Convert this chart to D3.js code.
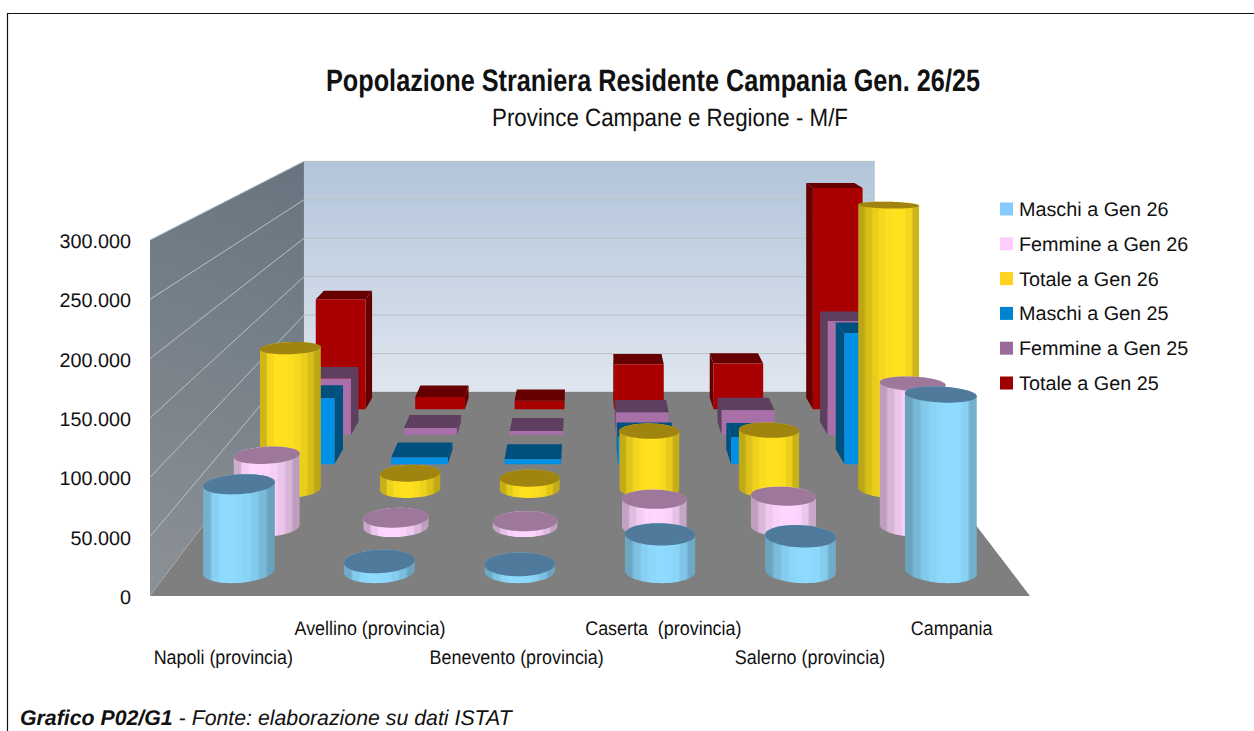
<!DOCTYPE html>
<html>
<head>
<meta charset="utf-8">
<script src="https://cdn.jsdelivr.net/npm/d3@7/dist/d3.min.js"></script>
<style>
  html, body { margin: 0; padding: 0; background: #fff; }
  svg { display: block; }
  text { font-family: "Liberation Sans", Arial, sans-serif; fill: #111; text-rendering: geometricPrecision; }
</style>
</head>
<body>
<div id="result"></div>
<script>
const categories = ["Napoli (provincia)", "Avellino (provincia)", "Benevento (provincia)", "Caserta  (provincia)", "Salerno (provincia)", "Campania"];
const seriesNames = ["Maschi a Gen 26", "Femmine a Gen 26", "Totale a Gen 26", "Maschi a Gen 25", "Femmine a Gen 25", "Totale a Gen 25"];

const maschi26 = [76500, 8600, 6000, 32400, 30700, 155500];
const femmine26 = [68600, 8800, 5500, 26500, 29400, 137000];
const totale26 = [145700, 16500, 11400, 60000, 61000, 293500];
const maschi25 = [72000, 7500, 5500, 30000, 29400, 143000];
const femmine25 = [66000, 8200, 4700, 26300, 29000, 133000];
const totale25 = [137000, 15500, 10600, 56000, 57000, 275000];
const seriesValues = [maschi26, femmine26, totale26, maschi25, femmine25, totale25];

const yTicks = [0, 50000, 100000, 150000, 200000, 250000, 300000];

const legendColors = ["#85cbff", "#ffccff", "#ffd320", "#0084d1", "#9a6a9a", "#9c0000"];
const sideColors = ["#8edbff", "#ffd6ff", "#ffe11e", "#0090e6", "#a86fa8", "#a80000"];
const capColors = ["#4f7a9c", "#9d789a", "#a08410", "#00507e", "#5f3f60", "#660000"];

const W = 1254, H = 731;
const svg = d3.select("#result").append("svg").attr("width", W).attr("height", H);
const defs = svg.append("defs");

// front plane scales, depth runs 0 (front) to 1 (back wall)
const x = d3.scaleBand().domain(categories).range([150, 1030]);
const y = d3.scaleLinear().domain([0, 300000]).range([596, 240]);
const z = d3.scaleBand().domain(seriesNames).range([0, 1]);

const vx = 587.5, vy = 16.5, persp = 0.543;
function proj(px, py, depth) {
    const s = 1 / (1 + persp * depth);
    return [vx + (px - vx) * s, vy + (py - vy) * s];
}
const lineGen = d3.line();
function poly(pts) { return lineGen(pts) + "Z"; }

// walls and floor
const x0 = x.range()[0], x1 = x.range()[1], y0 = y(0), yTop = y(300000);

const backGrad = defs.append("linearGradient").attr("id", "backWall").attr("x1", 0).attr("x2", 0).attr("y1", 0).attr("y2", 1);
backGrad.append("stop").attr("offset", 0).attr("stop-color", "#b2c5da");
backGrad.append("stop").attr("offset", 1).attr("stop-color", "#e0e6ef");
const sideGrad = defs.append("linearGradient").attr("id", "sideWall").attr("gradientUnits", "userSpaceOnUse")
    .attr("x1", 304).attr("y1", 162).attr("x2", 150).attr("y2", 596);
sideGrad.append("stop").attr("offset", 0).attr("stop-color", "#67747f");
sideGrad.append("stop").attr("offset", 1).attr("stop-color", "#8c9195");

svg.append("path").attr("fill", "url(#backWall)")
    .attr("d", poly([proj(x0, yTop, 1), proj(x1, yTop, 1), proj(x1, y0, 1), proj(x0, y0, 1)]));
svg.append("path").attr("fill", "url(#sideWall)")
    .attr("d", poly([proj(x0, yTop, 0), proj(x0, yTop, 1), proj(x0, y0, 1), proj(x0, y0, 0)]));

yTicks.forEach(function (t) {
    svg.append("path").attr("fill", "none").attr("stroke", "#bcc0c4").attr("stroke-width", 1)
        .attr("d", lineGen([proj(x0, y(t), 0), proj(x0, y(t), 1), proj(x1, y(t), 1)]));
});
svg.append("path").attr("fill", "none").attr("stroke", "#bcc5cf").attr("stroke-width", 1)
    .attr("d", lineGen([proj(x1, yTop, 1), proj(x1, y0, 1)]));
svg.append("path").attr("fill", "#7f7f7f")
    .attr("d", poly([proj(x0, y0, 0), proj(x1, y0, 0), proj(x1, y0, 1), proj(x0, y0, 1)]));

// soft stepped shading across a cylinder, the bright part moves with the bar's place on the floor
function cylinderGradient(i, j, cx) {
    const c = d3.rgb(sideColors[i]);
    const id = "cyl" + i + "_" + j;
    const peak = 0.5 + (cx - vx) / (x1 - x0) * 0.45;
    const g = defs.append("linearGradient").attr("id", id);
    const shade = function (t) {
        const d = t < peak ? (peak - t) / peak : (t - peak) / (1 - peak);
        return 1 - 0.32 * Math.pow(d, 2.6);
    };
    const n = 9, blend = 0.018;
    d3.range(n).forEach(function (k) {
        const f = shade((k + 0.5) / n);
        const col = d3.rgb(c.r * f, c.g * f, c.b * f).formatHex();
        g.append("stop").attr("offset", k / n + blend).attr("stop-color", col);
        g.append("stop").attr("offset", (k + 1) / n - blend).attr("stop-color", col);
    });
    return id;
}

function circlePts(cx, py, cz, rx, rz) {
    return d3.range(64).map(function (a) {
        const t = a / 64 * 2 * Math.PI;
        return proj(cx + rx * Math.cos(t), py, cz + rz * Math.sin(t));
    });
}

function drawCylinder(g, i, j, cx, cz, rx, rz, value) {
    const top = circlePts(cx, y(value), cz, rx, rz);
    const base = circlePts(cx, y(0), cz, rx, rz);
    g.append("path").attr("fill", "url(#" + cylinderGradient(i, j, cx) + ")").attr("d", poly(d3.polygonHull(top.concat(base))));
    g.append("path").attr("fill", capColors[i]).attr("d", poly(top));
}

function drawBox(g, i, cx, cz, rx, rz, value) {
    const l = cx - rx, r = cx + rx, zf = cz - rz, zb = cz + rz, yt = y(value), yb = y(0);
    // side face that can be seen depends on which side of the vanishing point the bar is
    const sx = cx < vx ? r : l;
    g.append("path").attr("fill", capColors[i])
        .attr("d", poly([proj(sx, yt, zf), proj(sx, yt, zb), proj(sx, yb, zb), proj(sx, yb, zf)]));
    g.append("path").attr("fill", capColors[i])
        .attr("d", poly([proj(l, yt, zf), proj(r, yt, zf), proj(r, yt, zb), proj(l, yt, zb)]));
    g.append("path").attr("fill", sideColors[i])
        .attr("d", poly([proj(l, yt, zf), proj(r, yt, zf), proj(r, yb, zf), proj(l, yb, zf)]));
}

// back rows first so the front rows cover them
const bars = svg.append("g");
d3.range(seriesNames.length).reverse().forEach(function (i) {
    const g = bars.append("g");
    const cz = z(seriesNames[i]) + z.bandwidth() / 2;
    categories.forEach(function (cat, j) {
        const cx = x(cat) + x.bandwidth() / 2;
        const rx = x.bandwidth() / 4, rz = z.bandwidth() / 4;
        if (i < 3) drawCylinder(g, i, j, cx, cz, rx, rz, seriesValues[i][j]);
        else drawBox(g, i, cx, cz, rx, rz, seriesValues[i][j]);
    });
});

// y axis
const itFormat = d3.formatLocale({ decimal: ",", thousands: ".", grouping: [3], currency: ["€", ""] }).format(",d");
const yAxis = svg.append("g").attr("transform", "translate(131,1)")
    .call(d3.axisLeft(y).tickValues(yTicks).tickFormat(itFormat).tickSize(0).tickPadding(0));
yAxis.select(".domain").remove();
yAxis.selectAll("text").attr("font-size", 19.8).style("font-family", '"Liberation Sans", Arial, sans-serif').attr("fill", "#111");

// category labels, staggered on two rows and a little condensed
categories.forEach(function (cat, j) {
    const label = svg.append("text")
        .attr("x", x(cat) + x.bandwidth() / 2 - (j === 5 ? 5 : 0))
        .attr("y", j % 2 === 0 ? 664 : 635)
        .attr("text-anchor", "middle")
        .style("white-space", "pre")
        .attr("font-size", 19.8)
        .text(cat);
    label.attr("textLength", label.node().getComputedTextLength() * 0.905)
        .attr("lengthAdjust", "spacingAndGlyphs");
});

// legend
seriesNames.forEach(function (name, i) {
    const ly = 209 + i * 34.8;
    svg.append("rect").attr("x", 1000).attr("y", ly - 6.5).attr("width", 13).attr("height", 13).attr("fill", legendColors[i]);
    svg.append("text").attr("x", 1019).attr("y", ly + 7).attr("font-size", 19.8).text(name);
});

// titles
svg.append("text").attr("x", 653).attr("y", 91).attr("text-anchor", "middle").attr("font-weight", "bold").attr("font-size", 31)
    .attr("textLength", 654).attr("lengthAdjust", "spacingAndGlyphs").text("Popolazione Straniera Residente Campania Gen. 26/25");
svg.append("text").attr("x", 670).attr("y", 126).attr("text-anchor", "middle").attr("font-size", 25)
    .attr("textLength", 356).attr("lengthAdjust", "spacingAndGlyphs").text("Province Campane e Regione - M/F");

// footnote
const note = svg.append("text").attr("x", 20).attr("y", 725).attr("font-size", 21.3).attr("font-style", "italic");
note.append("tspan").attr("font-weight", "bold").text("Grafico P02/G1");
note.append("tspan").text(" - Fonte: elaborazione su dati ISTAT");

// outer frame has only top and left edges in view
svg.append("path").attr("fill", "none").attr("stroke", "#111").attr("stroke-width", 1.2)
    .attr("d", lineGen([[7.5, H], [7.5, 13.5], [W, 13.5]]));
</script>
</body>
</html>
